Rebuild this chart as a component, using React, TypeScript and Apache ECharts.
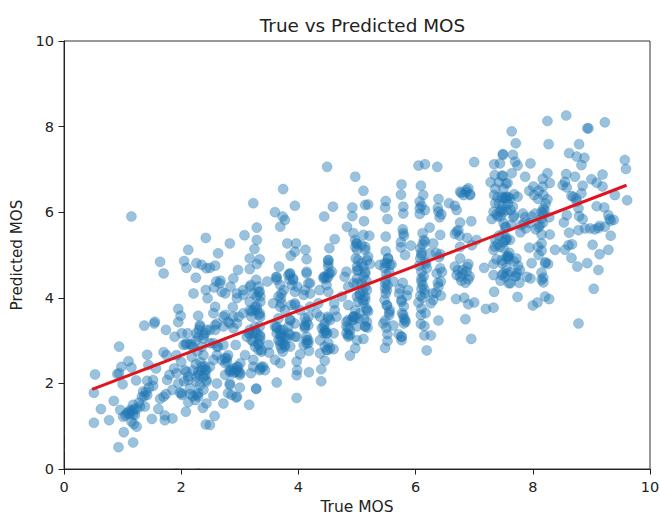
import React, { useEffect, useRef } from "react";
import * as echarts from "echarts";

const xTicks = [0, 2, 4, 6, 8, 10];
const titleText = "True vs Predicted MOS";
const xName = "True MOS";
const yName = "Predicted MOS";

const lowPoints = [
[1.15,5.90],[2.42,5.40],[2.12,5.12],[1.64,4.84],[2.05,4.86],[2.09,4.70],[1.70,4.57],[2.26,4.81],[2.35,4.77],[2.43,4.69],[2.25,4.47],[2.21,4.10],[2.42,4.18],[2.45,3.99],[1.95,3.74],[1.99,3.58],[1.95,3.43],[2.29,3.58],[1.37,3.35],[1.55,3.44],[1.54,3.40],[1.74,3.25],[1.89,3.09],[2.01,3.17],[2.11,3.17],[2.32,3.36],[2.26,3.17],[2.38,3.13],[2.43,3.25],[2.08,2.91],[2.15,2.92],[2.04,2.90],[0.94,2.86],[1.42,2.67],[1.70,2.73],[1.75,2.66],[1.92,2.66],[2.18,2.62],[2.38,2.66],[1.10,2.52],[0.98,2.39],[1.15,2.37],[1.44,2.43],[1.57,2.35],[0.53,2.21],[0.91,2.22],[0.94,2.24],[1.23,2.07],[1.00,1.98],[1.42,2.06],[1.52,2.08],[1.76,2.08],[1.80,2.20],[1.92,2.24],[2.06,2.31],[2.12,2.16],[2.26,2.16],[2.41,2.31],[2.43,2.08],[1.52,1.94],[1.35,1.81],[1.42,1.73],[1.33,1.69],[1.74,1.75],[1.70,1.69],[1.64,1.64],[1.98,1.78],[2.01,1.73],[2.15,1.88],[2.29,1.77],[2.24,1.61],[2.12,1.56],[2.43,1.53],[0.51,1.78],[0.85,1.59],[0.63,1.40],[0.96,1.38],[1.18,1.50],[1.13,1.38],[1.07,1.30],[1.01,1.22],[1.21,1.26],[1.30,1.46],[1.38,1.46],[1.61,1.40],[1.72,1.25],[1.72,1.14],[1.85,1.18],[1.50,1.17],[2.08,1.34],[2.37,1.43],[0.51,1.08],[0.77,1.14],[1.15,1.11],[1.24,0.99],[1.02,0.86],[2.42,1.04],[1.18,0.62],[0.93,0.51],
[1.10,1.33],[1.16,1.35],[1.20,1.40],[1.05,1.25],[1.19,1.05],[1.40,1.80],[1.37,1.70],[2.30,2.20],[2.35,2.30],[2.38,2.15],[2.40,2.40],[2.33,2.50],[2.28,2.75],[2.35,2.85],[2.38,3.05],[2.30,3.25],
[2.32,3.33],[2.41,3.17],[2.29,3.09],[2.09,2.94],[2.18,2.90],[2.35,2.39],[2.43,2.31],[2.41,2.19],[2.29,2.27],[2.09,2.27],[2.12,2.08],[2.26,2.04],[2.43,2.04],[2.29,1.69],[2.26,1.73],[2.01,1.77],
[2.25,2.45],[2.20,2.30],[2.32,1.95],[2.38,1.85],[2.20,2.85],[2.25,3.00],[2.20,1.70],[2.15,1.75],[2.05,2.05],[1.95,2.00],[1.85,1.85],[1.88,2.35],[2.00,2.50],[1.12,1.28],[1.18,1.28],[1.24,1.40],[1.28,1.55],[1.45,1.90],
];

const midPoints = [
[3.74,6.54],[3.23,6.21],[3.94,6.15],[4.44,5.90],[4.59,6.13],[4.92,6.11],[4.92,5.91],[4.97,6.83],[4.49,7.06],[3.60,6.00],[3.73,5.90],[3.77,5.82],[3.69,5.66],[3.29,5.64],[3.08,5.46],[2.83,5.27],[2.63,5.04],[3.29,5.35],[3.25,5.14],[3.81,5.27],[3.96,5.27],[3.94,5.08],[3.87,4.98],[4.12,5.12],[4.14,4.90],[3.17,4.92],[3.34,4.90],[3.29,4.79],[3.17,4.67],[2.97,4.65],[2.58,4.75],[2.49,4.70],[3.67,4.73],[3.62,4.48],[3.47,4.38],[3.28,4.42],[2.89,4.45],[2.67,4.40],[2.84,4.26],[3.85,4.56],[3.91,4.42],[4.14,4.61],[4.17,4.34],[4.45,4.49],[4.54,4.57],[4.51,4.88],[4.53,5.16],[4.62,5.37],[4.83,5.66],[4.94,5.51],[5.00,5.27],[4.98,4.92],[4.82,4.61],[5.00,4.45],[4.36,4.18],[4.51,4.14],[4.20,4.10],[3.98,4.26],[3.69,4.30],[3.75,4.18],[3.70,3.99],[3.32,4.14],[3.19,4.30],[3.06,4.07],[2.95,3.99],[2.69,4.14],[2.56,4.24],[2.58,3.79],[2.88,3.78],[3.35,3.91],[3.23,3.71],[3.33,3.60],[3.94,3.83],[3.88,3.83],[4.61,3.87],[4.85,3.83],[5.02,3.91],[3.77,3.71],[4.31,3.64],[4.50,3.56],[4.65,3.56],[4.94,3.56],[4.14,3.44],[4.11,3.33],[3.86,3.48],[3.60,3.33],[3.69,3.25],[3.23,3.17],[3.34,3.13],[3.12,3.09],[2.75,3.60],[2.58,3.36],[2.80,3.44],[2.89,3.29],[4.45,3.21],[4.60,3.17],[4.82,3.33],[4.88,3.13],[5.00,3.01],[3.77,3.09],[3.86,3.13],[3.97,3.09],[4.17,3.01],[4.37,3.01],[2.49,2.94],[2.93,2.90],[3.49,2.90],[3.69,2.90],[4.09,2.90],[3.32,2.78],[3.50,2.72],[3.73,2.74],[4.18,2.76],[4.50,2.78],[4.60,2.80],[4.97,2.82],[4.37,2.70],[4.03,2.68],[3.09,2.66],[4.88,2.65],[2.78,2.59],[2.61,2.66],[2.75,2.47],[3.23,2.55],[3.60,2.55],[3.69,2.47],[3.97,2.51],[4.45,2.53],[2.49,2.39],[2.95,2.31],[2.86,2.31],[3.01,2.24],[3.37,2.39],[3.43,2.31],[3.19,2.24],[3.98,2.31],[4.18,2.26],[3.97,2.19],[4.39,2.33],[2.61,2.00],[2.75,2.20],[2.83,1.96],[3.00,1.90],[3.28,1.88],[3.63,2.02],[4.39,2.05],[2.55,1.71],[2.80,1.77],[2.94,1.67],[2.72,1.53],[3.16,1.50],[2.57,1.24],[3.97,1.66],[2.49,1.03],
[3.20,3.56],[3.29,4.03],[3.26,3.79],[3.32,2.94],[3.26,3.33],[3.34,3.33],[3.17,3.25],[3.71,3.09],[3.74,2.94],[3.66,3.52],[3.83,3.33],[3.63,3.17],[4.45,3.40],[4.43,3.17],[4.85,3.48],[4.82,3.17],[4.94,3.48],[4.51,2.94],[2.95,2.39],[2.92,2.27],[4.97,5.35],[5.00,5.12],[5.00,4.64],[5.00,4.34],[5.00,4.03],[4.97,3.71],[3.63,4.49],[3.85,4.42],[4.48,4.45],[3.71,4.10],[3.35,4.03],[2.60,4.38],[4.17,3.56],
[3.17,3.17],[3.26,3.21],[3.35,3.09],[3.23,2.98],[3.32,2.90],[3.37,2.78],[3.63,3.29],[3.71,3.17],[3.80,3.05],[3.69,2.98],[3.77,2.86],[2.61,3.40],[2.55,2.94],[2.63,2.86],[2.80,2.66],[2.75,2.59],[2.89,2.35],[2.98,2.27],[2.83,2.27],[3.00,2.20],[2.83,2.00],[2.86,1.73],[2.95,1.69],[3.28,1.87],[3.35,2.35],[3.23,2.39],[2.55,2.55],[2.55,3.64],[3.29,3.71],[3.35,3.56],[3.57,3.87],[3.69,3.79],[3.17,3.71],[2.72,3.56],[2.95,3.40],
[4.99,5.27],[5.08,5.23],[5.14,5.12],[5.17,4.88],[5.08,4.81],[5.02,4.65],[5.14,4.57],[5.08,4.34],[5.17,4.18],[5.05,4.07],[5.14,3.95],[5.17,3.71],[4.94,3.56],[5.02,3.52],[5.14,3.33],[4.85,3.29],[4.85,3.13],[4.51,4.88],[4.51,4.81],[4.51,4.57],[4.43,4.49],[4.57,4.61],[3.91,4.45],[3.86,4.57],[4.11,3.36],[4.11,3.29],[4.46,3.25],[4.40,3.29],[4.49,3.17],[4.48,2.78],[4.54,2.82],[4.14,3.01],[4.17,2.94],[4.51,3.52],[4.11,4.18],[4.09,4.07],[4.91,3.48],[4.94,4.34],[5.02,4.88],[3.86,3.48],[3.94,3.40],[3.86,2.86],[3.94,3.09],
[3.23,4.10],[3.34,4.14],[3.17,3.91],[3.29,3.79],[3.20,3.68],[3.34,3.64],[3.15,3.17],[3.29,3.17],[3.20,3.01],[3.34,3.01],[3.26,2.86],[3.37,2.74],[3.63,3.33],[3.74,3.25],[3.69,3.13],[3.83,3.17],[3.66,3.01],[3.77,2.90],[3.71,2.82],[3.66,4.03],[3.71,3.87],[3.63,4.42],[3.83,4.53],[3.89,4.30],[3.94,4.14],[4.43,4.45],[4.51,4.49],[4.48,4.30],[4.51,4.73],[4.11,3.52],[4.17,3.36],[4.14,3.09],[4.14,2.94],[4.43,3.33],[4.48,3.17],[4.37,3.56],[4.54,3.48],[4.45,2.86],[4.82,3.44],[4.88,3.25],[4.85,3.09],[4.97,3.56],[5.00,3.33],[2.83,2.31],[2.97,2.39],[2.89,2.24],[3.01,2.47],[3.34,2.31],[3.40,2.39],[2.69,2.55],[2.78,2.51],[2.61,2.86],[2.72,2.90],[2.49,3.25],[2.58,3.25],[2.72,3.33],[2.98,3.56],[3.06,3.64],[2.89,3.56],[2.83,3.40],[2.66,4.34],[2.75,4.10],[2.95,4.10],[3.06,4.18],[3.17,4.26],[3.32,4.26],[4.14,4.57],[4.20,4.34],[3.94,3.87],[4.03,3.71],[4.20,3.79],[4.34,3.87],[4.62,3.71],[4.74,4.03],[4.85,4.26],[4.79,4.49],[4.97,5.19],[5.00,4.73],
];

const upperPoints = [
[6.05,7.09],[6.16,7.12],[6.37,7.06],[7.00,7.17],[7.49,7.36],[7.34,7.12],[7.44,7.14],[7.28,6.70],[7.35,6.87],[7.47,6.85],[7.54,6.67],[5.11,6.50],[5.76,6.65],[5.75,6.41],[6.09,6.62],[6.13,6.40],[6.76,6.48],[6.87,6.52],[6.90,6.56],[6.82,6.40],[6.93,6.40],[6.39,6.31],[6.57,6.21],[6.67,6.15],[5.49,6.26],[5.48,6.11],[5.14,6.17],[5.19,6.18],[5.79,6.13],[5.79,5.97],[6.07,6.25],[6.07,6.09],[6.07,5.96],[6.16,6.05],[6.39,6.01],[6.41,5.88],[6.70,6.05],[7.34,6.40],[7.36,6.21],[7.47,6.36],[7.55,6.36],[7.33,6.01],[7.44,6.01],[7.30,5.84],[7.40,5.90],[7.55,6.05],[5.52,5.84],[5.12,5.79],[6.76,5.76],[6.95,5.79],[6.24,5.64],[6.73,5.58],[5.11,5.47],[5.21,5.45],[5.49,5.43],[5.79,5.51],[6.12,5.51],[6.42,5.47],[6.67,5.49],[7.54,5.65],[6.88,5.40],[7.04,5.35],[6.16,5.31],[6.30,5.27],[5.75,5.18],[5.92,5.22],[7.36,5.35],[7.44,5.19],[7.55,5.35],[5.49,5.09],[5.82,5.00],[6.76,5.19],[6.96,5.23],[7.33,5.12],[7.58,4.96],[6.10,5.00],[6.24,5.04],[6.42,5.02],[5.14,5.19],[5.19,4.96],[5.53,4.92],[6.76,4.92],[6.08,4.92],[6.16,4.84],[5.39,4.77],[5.48,4.81],[5.59,4.78],[5.22,4.79],[5.11,4.73],[6.42,4.69],[6.67,4.73],[6.90,4.79],[7.17,4.70],[7.33,4.79],[7.56,4.92],[7.56,4.57],[6.10,4.61],[6.19,4.69],[6.36,4.57],[6.87,4.61],[7.33,4.53],[7.47,4.53],[6.70,4.53],[6.76,4.49],[6.90,4.43],[6.43,4.38],[5.62,4.38],[5.49,4.42],[5.11,4.49],[6.10,4.38],[5.78,4.35],[7.59,4.34],[6.39,4.26],[5.73,4.21],[5.87,4.18],[5.48,4.22],[5.49,4.10],[6.10,4.21],[6.16,4.10],[5.14,4.26],[5.05,4.10],[6.43,4.05],[6.29,4.10],[6.69,3.97],[6.83,4.00],[7.34,4.14],[7.00,3.89],[6.90,3.85],[6.05,3.89],[5.76,3.91],[6.26,3.87],[5.14,4.03],[5.11,3.87],[5.51,3.82],[7.20,3.74],[7.33,3.77],[6.10,3.75],[6.17,3.64],[5.55,3.66],[5.19,3.68],[5.05,3.64],[5.77,3.64],[5.80,3.52],[5.17,3.44],[5.83,3.44],[5.48,3.47],[6.39,3.47],[6.85,3.50],[5.14,3.33],[5.62,3.35],[6.09,3.39],[6.15,3.34],[6.15,3.12],[6.26,3.12],[5.71,3.15],[5.76,3.09],[5.76,3.01],[6.95,3.04],[5.11,3.04],[5.52,2.99],[5.48,2.83],[6.19,2.77],
[6.10,4.45],[6.12,4.30],[6.14,4.50],[6.08,4.05],[6.15,4.20],[6.12,4.00],[5.14,4.60],[5.16,4.40],[5.12,3.50],[5.16,3.75],[5.10,3.95],[5.18,3.30],[5.10,4.15],
[5.53,4.92],[5.51,4.81],[5.56,4.77],[5.48,4.34],[5.51,4.18],[5.51,3.83],[5.56,3.71],[5.76,3.95],[5.79,3.60],[5.82,3.48],[5.76,3.09],[6.78,6.45],[6.86,6.47],[7.40,6.35],[7.50,6.33],[7.40,5.25],[7.60,5.05],[7.48,4.80],[6.80,4.55],[6.92,4.50],[6.93,6.42],[6.10,5.05],[6.08,5.15],[6.12,5.25],[6.14,5.35],[6.06,4.75],[6.18,4.80],[6.10,6.15],[6.09,3.60],[5.80,3.40],
[5.50,4.55],[5.52,4.30],[5.47,3.95],[5.55,3.60],[5.45,3.40],[5.50,3.30],[5.55,4.60],[5.47,4.70],[5.52,3.15],[5.78,5.60],[5.75,5.30],[5.80,5.45],[5.72,4.10],[5.85,4.05],[5.80,3.80],[6.38,6.10],[6.44,5.95],[6.35,5.05],[6.40,4.95],[6.45,4.60],[6.38,4.35],[6.30,3.95],[6.35,4.12],[6.70,5.55],[6.75,5.45],[6.72,4.65],[6.80,4.65],[6.88,4.72],[6.78,4.40],[6.85,4.35],
];

const highPoints = [
[8.57,8.26],[8.25,8.13],[9.23,8.10],[8.93,7.96],[8.95,7.96],[7.64,7.89],[7.71,7.61],[8.27,7.59],[8.79,7.59],[8.62,7.38],[8.75,7.30],[8.88,7.27],[8.83,7.10],[9.57,7.22],[9.59,7.01],[7.49,7.34],[7.66,7.34],[7.70,7.18],[7.74,7.09],[7.96,7.14],[8.25,6.91],[8.57,6.89],[8.72,6.83],[9.19,6.88],[7.64,6.91],[7.49,6.85],[7.87,6.83],[8.17,6.78],[8.29,6.68],[9.00,6.77],[9.09,6.69],[8.55,6.71],[8.58,6.58],[8.85,6.62],[9.19,6.60],[9.40,6.40],[9.61,6.28],[7.57,6.68],[8.01,6.60],[7.94,6.50],[8.17,6.60],[8.18,6.40],[8.09,6.31],[8.83,6.44],[8.69,6.36],[8.74,6.32],[7.74,6.36],[7.53,6.34],[7.61,6.32],[7.66,6.13],[9.09,6.14],[9.22,6.11],[8.78,6.09],[8.18,6.09],[8.04,5.97],[7.83,5.97],[7.47,6.05],[8.79,5.91],[8.85,5.84],[8.58,5.93],[8.28,5.88],[9.29,5.93],[9.38,5.82],[9.31,5.84],[7.67,5.88],[7.87,5.88],[8.18,5.97],[8.53,5.76],[7.85,5.74],[8.12,5.70],[8.98,5.62],[9.06,5.60],[9.14,5.68],[9.23,5.66],[8.78,5.58],[8.89,5.62],[8.62,5.52],[9.33,5.45],[7.53,5.66],[7.79,5.53],[8.15,5.48],[8.29,5.48],[7.53,5.35],[7.61,5.35],[8.15,5.27],[8.09,5.19],[7.94,5.17],[8.38,5.12],[8.55,5.12],[8.61,5.23],[8.67,5.25],[9.02,5.24],[9.29,5.12],[9.14,5.02],[7.50,5.16],[7.55,4.96],[7.47,4.88],[7.72,4.92],[8.66,4.93],[7.98,4.81],[8.21,4.81],[8.26,4.79],[8.76,4.73],[8.93,4.81],[9.12,4.65],[7.75,4.75],[7.78,4.65],[7.50,4.57],[8.15,4.59],[7.72,4.51],[7.90,4.49],[7.96,4.45],[7.53,4.49],[8.15,4.42],[8.18,4.36],[7.62,4.34],[7.77,4.35],[9.04,4.21],[7.74,4.02],[8.21,4.03],[8.28,3.97],[8.08,3.89],[8.00,3.82],[8.78,3.40],
[8.20,6.05],[8.15,6.00],[7.55,6.30],[7.58,6.36],[7.55,5.40],[7.50,5.30],[7.58,4.98],[7.60,4.90],[7.70,4.50],[7.73,4.58],[7.50,6.00],[7.45,5.90],[7.68,5.92],[7.63,5.70],[7.80,5.70],[7.88,5.62],[8.18,4.47],[8.17,5.75],[8.10,5.65],[8.22,4.83],[8.66,6.38],[8.75,6.25],[8.51,6.63],[9.33,5.80],[9.12,5.63],
[7.36,6.55],[7.42,6.70],[7.50,6.55],[7.42,6.20],[7.48,6.15],[7.38,5.95],[7.50,5.75],[7.42,5.45],[7.35,5.20],[7.50,5.50],[7.38,4.90],[7.55,4.70],[7.45,4.40],[7.62,4.60],[7.68,4.85],[7.58,6.20],[7.62,6.05],[7.68,6.42],[7.95,5.75],[7.98,5.90],[8.05,5.60],[8.15,5.85],[8.22,6.20],[8.10,6.50],[8.02,6.40],[8.25,6.30],[8.10,5.00],[8.15,5.10],
];

// points whose centres lie just outside the axes, showing only as clipped slivers
const edgePoints = [[1.92,-0.1],[2.29,-0.1],[-0.08,0.84],[-0.08,0.44]];
const fitLine = [[0.48,1.86],[9.6,6.63]];

export default function App() {
  const ref = useRef<HTMLDivElement>(null);
  useEffect(() => {
    const chart = echarts.init(ref.current!, null, { renderer: "svg" });
    const font = "'DejaVu Sans', sans-serif";
    const fill = "rgba(31,119,180,0.56)";
    const rim = "rgba(31,119,180,0.3)";
    chart.setOption({
      animation: false,
      backgroundColor: "#fff",
      title: {
        text: titleText, left: 357.5, top: 11, textAlign: "center",
        textStyle: { fontFamily: font, fontSize: 18.4, fontWeight: "normal", color: "#222" },
      },
      grid: { left: 64, top: 41, width: 586, height: 428, show: true, borderColor: "#333", borderWidth: 1, backgroundColor: "transparent", outerBoundsMode: "none" },
      xAxis: {
        type: "value", min: xTicks[0], max: xTicks[xTicks.length - 1], interval: 2,
        name: xName, nameLocation: "middle", nameGap: 30,
        nameTextStyle: { fontFamily: font, fontSize: 15.5, color: "#222" },
        axisLine: { show: true, onZero: false, lineStyle: { color: "#222", width: 1 } },
        axisTick: { show: true, length: 5.5, lineStyle: { color: "#222" } },
        axisLabel: { fontFamily: font, fontSize: 14.5, color: "#222", margin: 10 },
        splitLine: { show: false },
      },
      yAxis: {
        type: "value", min: 0, max: 10, interval: 2,
        name: yName, nameLocation: "middle", nameGap: 40,
        nameTextStyle: { fontFamily: font, fontSize: 15.2, color: "#222" },
        axisLine: { show: true, onZero: false, lineStyle: { color: "#222", width: 1 } },
        axisTick: { show: true, length: 5.5, lineStyle: { color: "#222" } },
        axisLabel: { fontFamily: font, fontSize: 14.5, color: "#222", margin: 10 },
        splitLine: { show: false },
      },
      series: [
        {
          type: "scatter", data: [...lowPoints, ...midPoints, ...upperPoints, ...highPoints],
          symbolSize: 10, itemStyle: { color: fill, borderColor: rim, borderWidth: 1 }, z: 2,
        },
        {
          type: "custom", data: edgePoints, clip: true, z: 2,
          renderItem: (_p: any, api: any) => {
            const c = api.coord([api.value(0), api.value(1)]);
            return { type: "circle", shape: { cx: c[0], cy: c[1], r: 5.3 }, style: { fill } };
          },
        },
        {
          type: "line", data: fitLine, showSymbol: false, symbol: "none", z: 3,
          lineStyle: { color: "#e0141c", width: 3 },
        },
      ],
    });
    return () => chart.dispose();
  }, []);
  return <div ref={ref} style={{ position: "fixed", left: 0, top: 0, width: 660, height: 514, overflow: "hidden" }} />;
}
